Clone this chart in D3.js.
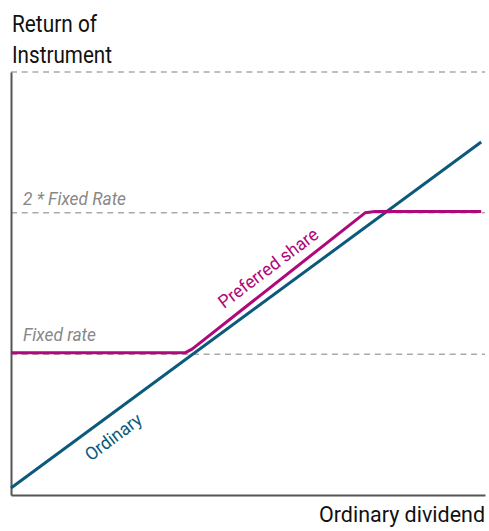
<!DOCTYPE html>
<html>
<head>
<meta charset="utf-8">
<script src="https://cdn.jsdelivr.net/npm/d3@7"></script>
<style>
  body { margin: 0; background: #fff; }
  svg { display: block; }
  text { font-family: Roboto, "Liberation Sans", sans-serif; }
</style>
</head>
<body>
<svg id="chart" width="489" height="531"></svg>
<script>
// values (x: 0..10, y: 0..10)
var ordinaryX = [0, 9.92];
var ordinaryY = [0.165, 8.345];
var preferredX = [0, 3.67, 3.82, 7.47, 7.68, 9.92];
var preferredY = [3.36, 3.36, 3.45, 6.67, 6.70, 6.70];
var levels = [3.33, 6.67, 10];
var levelLabels = ["Fixed rate", "2 * Fixed Rate", ""];

var svg = d3.select("#chart");

var x = d3.scaleLinear().domain([0, 10]).range([11, 485]);
var y = d3.scaleLinear().domain([0, 10]).range([495, 72]);

// the reference font is a condensed one, squeeze text to its measured width
function label(sel, len) {
    return sel.attr("textLength", len).attr("lengthAdjust", "spacingAndGlyphs");
}

// dashed reference lines
svg.selectAll(".level")
    .data(levels)
    .enter().append("line")
    .attr("class", "level")
    .attr("x1", x(0))
    .attr("x2", x(10))
    .attr("y1", function(d) { return y(d); })
    .attr("y2", function(d) { return y(d); })
    .attr("stroke", "#aaa")
    .attr("stroke-width", 1.5)
    .attr("stroke-dasharray", "6,4.7");

var labelLift = [13.5, 7.5, 0];
var labelLen = [73, 103, 0];
svg.selectAll(".levellabel")
    .data(levels.slice(0, 2))
    .enter().append("text")
    .attr("class", "levellabel")
    .attr("x", 23)
    .attr("y", function(d, i) { return y(d) - labelLift[i]; })
    .attr("textLength", function(d, i) { return labelLen[i]; })
    .attr("lengthAdjust", "spacingAndGlyphs")
    .attr("font-size", "18px")
    .attr("font-style", "italic")
    .attr("fill", "#888")
    .text(function(d, i) { return levelLabels[i]; });

// axes, no ticks
svg.append("g")
    .attr("transform", "translate(" + x(0) + ",0)")
    .call(d3.axisLeft(y).ticks(0).tickSize(0).tickSizeOuter(0))
    .select(".domain").attr("stroke", "#555").attr("stroke-width", 2);
svg.append("g")
    .attr("transform", "translate(0," + y(0) + ")")
    .call(d3.axisBottom(x).ticks(0).tickSize(0).tickSizeOuter(0))
    .select(".domain").attr("stroke", "#555").attr("stroke-width", 2);

var line = d3.line()
    .x(function(d) { return x(d[0]); })
    .y(function(d) { return y(d[1]); });

svg.append("path")
    .datum(d3.zip(ordinaryX, ordinaryY))
    .attr("d", line)
    .attr("fill", "none")
    .attr("stroke", "#0b5a7c")
    .attr("stroke-width", 3);

svg.append("path")
    .datum(d3.zip(preferredX, preferredY))
    .attr("d", line)
    .attr("fill", "none")
    .attr("stroke", "#b0087a")
    .attr("stroke-width", 3)
    .attr("stroke-linejoin", "round");

// line labels
var angle = -37;
label(svg.append("text")
    .attr("transform", "translate(" + 272 + "," + 273 + ") rotate(" + angle + ")")
    .attr("text-anchor", "middle")
    .attr("font-size", "18px")
    .attr("fill", "#b0087a")
    .text("Preferred share"), 120);
label(svg.append("text")
    .attr("transform", "translate(" + 117 + "," + 442 + ") rotate(" + angle + ")")
    .attr("text-anchor", "middle")
    .attr("font-size", "18px")
    .attr("fill", "#0b5a7c")
    .text("Ordinary"), 66);

// axis titles
label(svg.append("text")
    .attr("x", 12).attr("y", 31.5)
    .attr("font-size", "23px")
    .attr("fill", "#111")
    .text("Return of"), 85);
label(svg.append("text")
    .attr("x", 12).attr("y", 62.5)
    .attr("font-size", "23px")
    .attr("fill", "#111")
    .text("Instrument"), 100);
label(svg.append("text")
    .attr("x", 319).attr("y", 522)
    .attr("font-size", "22px")
    .attr("fill", "#111")
    .text("Ordinary dividend"), 166);
</script>
</body>
</html>
